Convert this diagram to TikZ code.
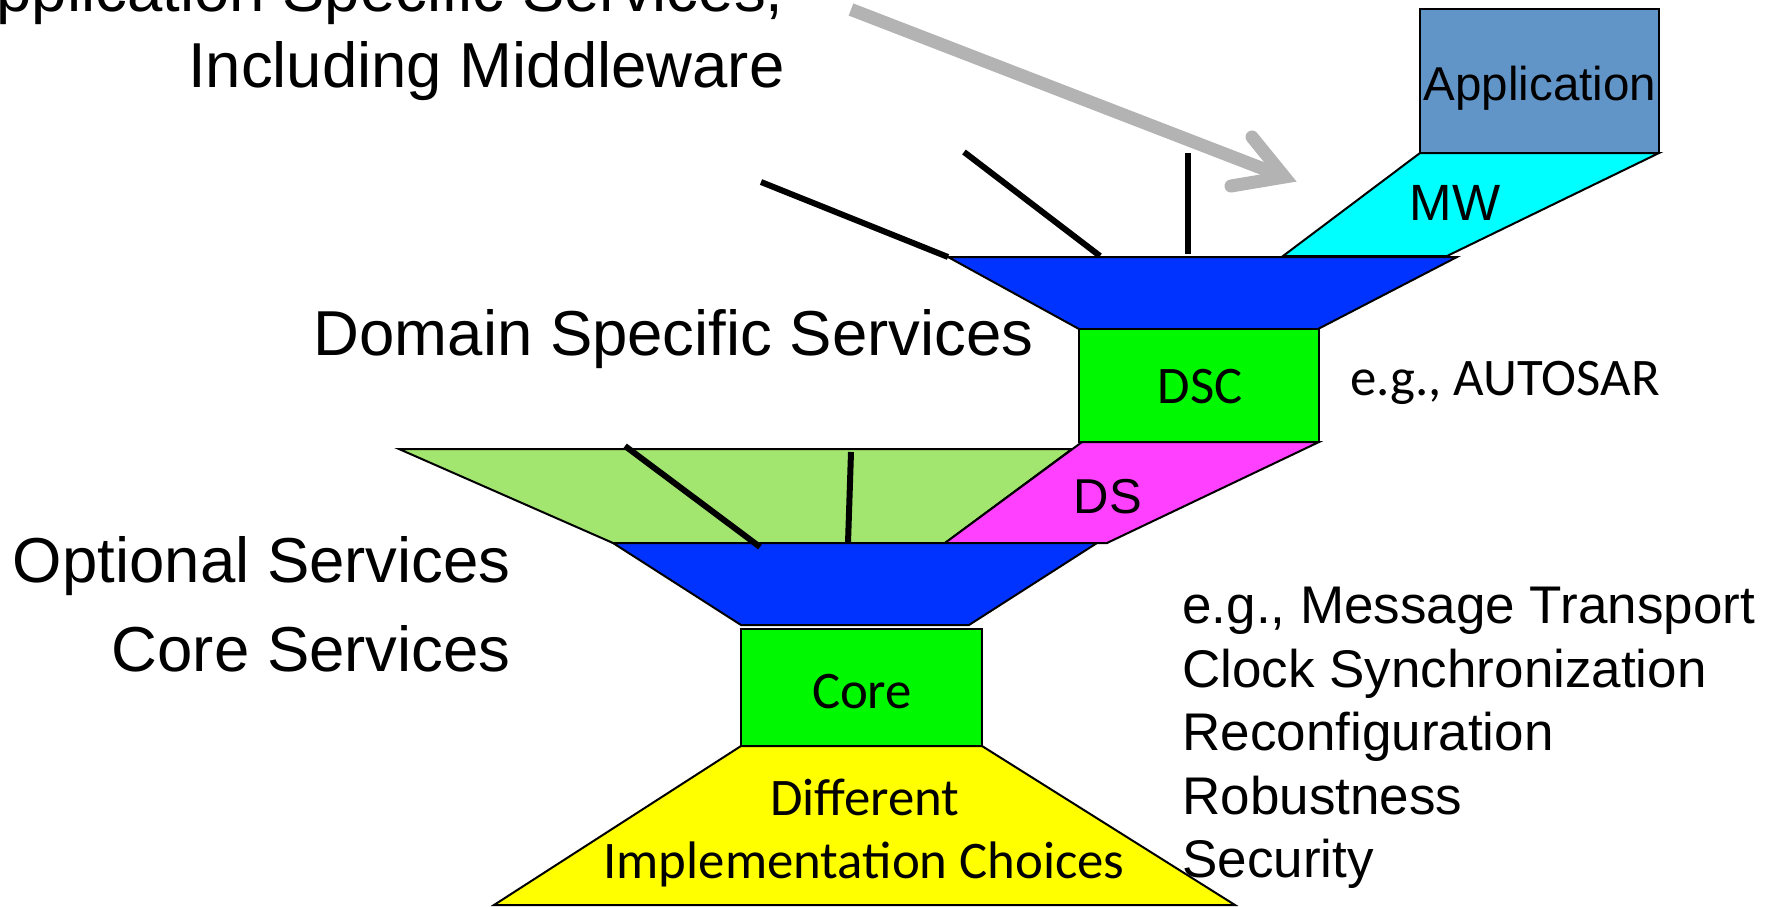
\documentclass[tikz,border=0pt]{standalone}
\usepackage{fontspec}
\setmainfont{Liberation Sans}
\newfontfamily\carlitofont{Carlito}
\definecolor{appblue}{HTML}{6295C7}
\definecolor{mwcyan}{HTML}{00FFFF}
\definecolor{svcblue}{HTML}{0033FF}
\definecolor{coregreen}{HTML}{00F800}
\definecolor{optgreen}{HTML}{A2E670}
\definecolor{dsmagenta}{HTML}{FF40FF}
\definecolor{implyellow}{HTML}{FFFF00}
\definecolor{arrowgray}{HTML}{B3B3B3}
\begin{document}
\begin{tikzpicture}[x=0.5pt,y=-0.5pt,
  outline/.style={draw=black, line width=1pt, line join=miter},
  stub/.style={draw=black, line width=3pt},
  biglabel/.style={font=\fontsize{31.75pt}{38pt}\selectfont, inner sep=0pt, anchor=base east},
  listlabel/.style={font=\fontsize{26.5pt}{32pt}\selectfont, inner sep=0pt, anchor=base west},
  sanslabel/.style={inner sep=0pt, anchor=base},
  boxlabel/.style={font=\carlitofont\fontsize{26.4pt}{31pt}\selectfont, inner sep=0pt, anchor=base},
  grayarrow/.style={draw=arrowgray, line width=6.5pt},
]
\useasboundingbox (0,0) rectangle (1782,906);
\clip (0,0) rectangle (1782,906);

% upper stack: application, middleware, domain services
\draw[outline, fill=appblue] (1420,9) rectangle (1659,153);
\draw[outline, fill=mwcyan] (1420,153) -- (1659,153) -- (1447,256) -- (1283,256) -- cycle;
\draw[outline, fill=svcblue] (948,257) -- (1457,257) -- (1318,329) -- (1079,329) -- cycle;
\draw[outline, fill=coregreen] (1079,329) rectangle (1319,442);

% middle stack: optional services, DS, core services
\draw[outline, fill=optgreen] (399,449) -- (1072,449) -- (945,543) -- (613,543) -- cycle;
\draw[outline, fill=dsmagenta] (1082,442) -- (1319,442) -- (1107,543) -- (945,543) -- cycle;
\draw[outline, fill=svcblue] (613,543) -- (1097,543) -- (969,625) -- (741,625) -- cycle;
\draw[outline, fill=coregreen] (741,629) rectangle (982,746);

% base: implementation choices
\draw[outline, fill=implyellow] (741,746) -- (982,746) -- (1235,905) -- (494,905) -- cycle;

% service stubs
\coordinate (s1a) at (761,182);  \coordinate (s1b) at (948,257);
\coordinate (s2a) at (964,152);  \coordinate (s2b) at (1100,256);
\coordinate (s3a) at (1188,153); \coordinate (s3b) at (1188,254);
\coordinate (s4a) at (625,446);  \coordinate (s4b) at (760,547);
\coordinate (s5a) at (851,452);  \coordinate (s5b) at (848,543);
\draw[stub] (s1a) -- (s1b);
\draw[stub] (s2a) -- (s2b);
\draw[stub] (s3a) -- (s3b);
\draw[stub] (s4a) -- (s4b);
\draw[stub] (s5a) -- (s5b);

% gray pointer
\coordinate (ga) at (851,9.5);
\coordinate (gt) at (1284.5,177);
\coordinate (gw1) at (1252,137);
\coordinate (gw2) at (1231,186);
\draw[grayarrow, line cap=butt] (ga) -- (gt);
\draw[grayarrow, line cap=round, line join=miter] (gw1) -- (gt) -- (gw2);

% labels inside the shapes
\node[sanslabel, font=\fontsize{23.75pt}{28pt}\selectfont] (app) at (1540,100) {Application};
\node[sanslabel, font=\fontsize{25.5pt}{30pt}\selectfont] (mw) at (1455,220) {MW};
\node[boxlabel] (dsc) at (1200,403) {DSC};
\node[sanslabel, font=\fontsize{24.5pt}{29pt}\selectfont] (ds) at (1108,513) {DS};
\node[boxlabel] (core) at (862,708) {Core};
\node[boxlabel] (diff) at (865,815) {Different};
\node[boxlabel] (impl) at (864,878) {Implementation Choices};

% layer names
\node[biglabel] (asl1) at (784,11) {Application Specific Services,};
\node[biglabel] (asl2) at (785,87) {Including Middleware};
\node[biglabel] (dss) at (1034,355) {Domain Specific Services};
\node[biglabel] (opt) at (511,582) {Optional Services};
\node[biglabel] (cs) at (511,671) {Core Services};

% examples
\node[boxlabel, anchor=base west] (autosar) at (1350,395) {e.g., AUTOSAR};
\node[listlabel] (ex1) at (1182,623) {e.g., Message Transport};
\node[listlabel] (ex2) at (1182,687) {Clock Synchronization};
\node[listlabel] (ex3) at (1182,750) {Reconfiguration};
\node[listlabel] (ex4) at (1182,814) {Robustness};
\node[listlabel] (ex5) at (1182,877) {Security};
\end{tikzpicture}
\end{document}
